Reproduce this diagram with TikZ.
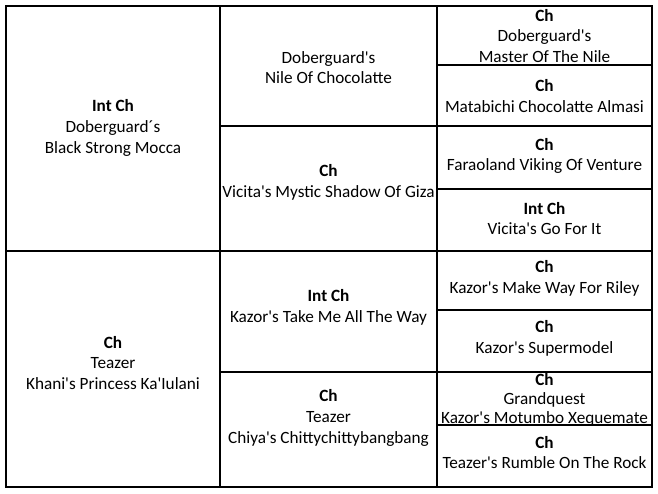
\documentclass[tikz,border=0pt]{standalone}
\usepackage{fontspec}
\setmainfont{Carlito}[Ligatures=TeXOff]
\begin{document}
\begin{tikzpicture}[x=1pt,y=-1pt,
    grid/.style={line width=2.8pt},
    dog/.style={align=center,inner sep=0pt,font=\fontsize{17.2}{20.8}\selectfont}]
    \useasboundingbox (0,0) rectangle (658,493);

    % table lines
    \draw[grid] (6,6) rectangle (652,487);
    \draw[grid] (220,6) -- (220,487);
    \draw[grid] (437,6) -- (437,487);
    \draw[grid] (6,251) -- (652,251);
    \foreach \y in {126,372} {
        \draw[grid] (220,\y) -- (652,\y);
    }
    \foreach \y in {65,189,310,425} {
        \draw[grid] (437,\y) -- (652,\y);
    }

    % parents
    \node[dog] (sire) at (113,128) {\textbf{Int Ch}\\Doberguard´s\\Black Strong Mocca};
    \node[dog] (dam) at (113,363) {\textbf{Ch}\\Teazer\\Khani's Princess Ka'Iulani};

    % grandparents
    \node[dog] (ss) at (328.5,67.5) {Doberguard's\\Nile Of Chocolatte};
    \node[dog] (sd) at (328.5,182.5) {\textbf{Ch}\\Vicita's Mystic Shadow Of Giza};
    \node[dog] (ds) at (328.5,307) {\textbf{Int Ch}\\Kazor's Take Me All The Way};
    \node[dog] (dd) at (328.5,418) {\textbf{Ch}\\Teazer\\Chiya's Chittychittybangbang};

    % great-grandparents
    \node[dog] (sss) at (544.5,36) {\textbf{Ch}\\Doberguard's\\Master Of The Nile};
    \node[dog] (ssd) at (544.5,96) {\textbf{Ch}\\Matabichi Chocolatte Almasi};
    \node[dog] (sds) at (544.5,156) {\textbf{Ch}\\Faraoland Viking Of Venture};
    \node[dog] (sdd) at (544.5,218.5) {\textbf{Int Ch}\\Vicita's Go For It};
    \node[dog] (dss) at (544.5,278.5) {\textbf{Ch}\\Kazor's Make Way For Riley};
    \node[dog] (dsd) at (544.5,338.5) {\textbf{Ch}\\Kazor's Supermodel};
    \node[dog,font=\fontsize{17.2}{19}\selectfont] (dds) at (544.5,400) {\textbf{Ch}\\Grandquest\\Kazor's Motumbo Xequemate};
    \node[dog] (ddd) at (544.5,452.5) {\textbf{Ch}\\Teazer's Rumble On The Rock};
\end{tikzpicture}
\end{document}
